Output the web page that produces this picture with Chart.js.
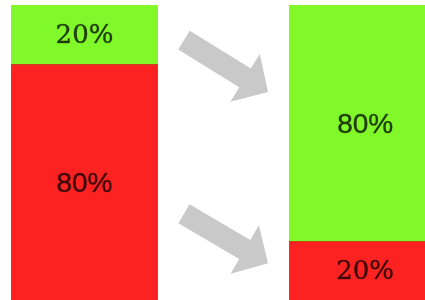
<!DOCTYPE html>
<html>
<head>
<meta charset="utf-8">
<script src="https://cdn.jsdelivr.net/npm/chart.js@4/dist/chart.umd.min.js"></script>
<style>
  html, body { margin: 0; padding: 0; background: #fff; overflow: hidden; }
  #wrap { width: 436px; height: 300px; }
</style>
</head>
<body>
<div id="wrap"><canvas id="shareChart" width="436" height="300"></canvas></div>
<script>
// Data (middle slot is left empty for the arrows)
const categories = ['Before', '', 'After'];
const greenShare = [20, null, 80];
const redShare = [80, null, 20];

const GREEN = '#80f82a';
const RED = '#fd2222';

// Percent labels in the middle of each segment
const segmentLabels = {
  id: 'segmentLabels',
  afterDatasetsDraw(chart) {
    const ctx = chart.ctx;
    ctx.save();
    ctx.textAlign = 'center';
    ctx.textBaseline = 'middle';
    ctx.fillStyle = 'rgba(0, 0, 0, 0.74)';
    ctx.strokeStyle = 'rgba(0, 0, 0, 0.45)';
    ctx.lineWidth = 0.6;
    chart.data.datasets.forEach((ds, i) => {
      chart.getDatasetMeta(i).data.forEach((bar, j) => {
        const v = ds.data[j];
        if (v == null) return;
        // small shares were set in a serif face, large ones in a sans face
        ctx.font = v < 50 ? '26px "DejaVu Serif"' : '28px "Liberation Sans"';
        // left bar is clipped on its left side, so centre on the visible part
        const x = j === 0 ? (chart.chartArea.left + bar.x + bar.width / 2) / 2 : bar.x;
        const y = (bar.y + bar.base) / 2 + 2;
        ctx.fillText(v + '%', x, y);
        ctx.strokeText(v + '%', x, y);
      });
    });
    ctx.restore();
  }
};

// Grey arrows going from the left bar to the right one
const arrows = {
  id: 'arrows',
  afterDatasetsDraw(chart) {
    const ctx = chart.ctx;
    const area = chart.chartArea;
    const left = chart.getDatasetMeta(0).data[0];
    const right = chart.getDatasetMeta(0).data[2];
    const x0 = left.x + left.width / 2 + 26;
    const x1 = right.x - right.width / 2 - 21;
    const h = area.bottom - area.top;
    const rows = [[0.119, 0.295], [0.708, 0.875]];
    ctx.save();
    ctx.fillStyle = '#c9c9c9';
    rows.forEach(([a, b]) => {
      const y0 = area.top + a * h;
      const y1 = area.top + b * h;
      const len = Math.hypot(x1 - x0, y1 - y0);
      ctx.save();
      ctx.translate(x0, y0);
      ctx.rotate(Math.atan2(y1 - y0, x1 - x0));
      ctx.beginPath();
      ctx.moveTo(0, -11);
      ctx.lineTo(len - 27, -11);
      ctx.lineTo(len - 27, -28);
      ctx.lineTo(len, 0);
      ctx.lineTo(len - 27, 28);
      ctx.lineTo(len - 27, 11);
      ctx.lineTo(0, 11);
      ctx.closePath();
      ctx.fill();
      ctx.restore();
    });
    ctx.restore();
  }
};

new Chart(document.getElementById('shareChart').getContext('2d'), {
  type: 'bar',
  data: {
    labels: categories,
    datasets: [
      {
        label: 'Red',
        data: redShare,
        backgroundColor: RED,
        borderColor: '#c2481a',
        borderWidth: { top: 1, right: 0, bottom: 0, left: 0 },
        borderSkipped: false,
        barPercentage: 1.075,
        categoryPercentage: 1
      },
      {
        label: 'Green',
        data: greenShare,
        backgroundColor: GREEN,
        borderWidth: 0,
        barPercentage: 1.075,
        categoryPercentage: 1
      }
    ]
  },
  options: {
    responsive: false,
    animation: false,
    layout: { padding: { left: 11, right: 0, top: 5, bottom: 0 } },
    plugins: {
      legend: { display: false },
      tooltip: { enabled: false }
    },
    scales: {
      x: { stacked: true, display: false },
      y: { stacked: true, display: false, min: 0, max: 100 }
    }
  },
  plugins: [arrows, segmentLabels]
});
</script>
</body>
</html>
